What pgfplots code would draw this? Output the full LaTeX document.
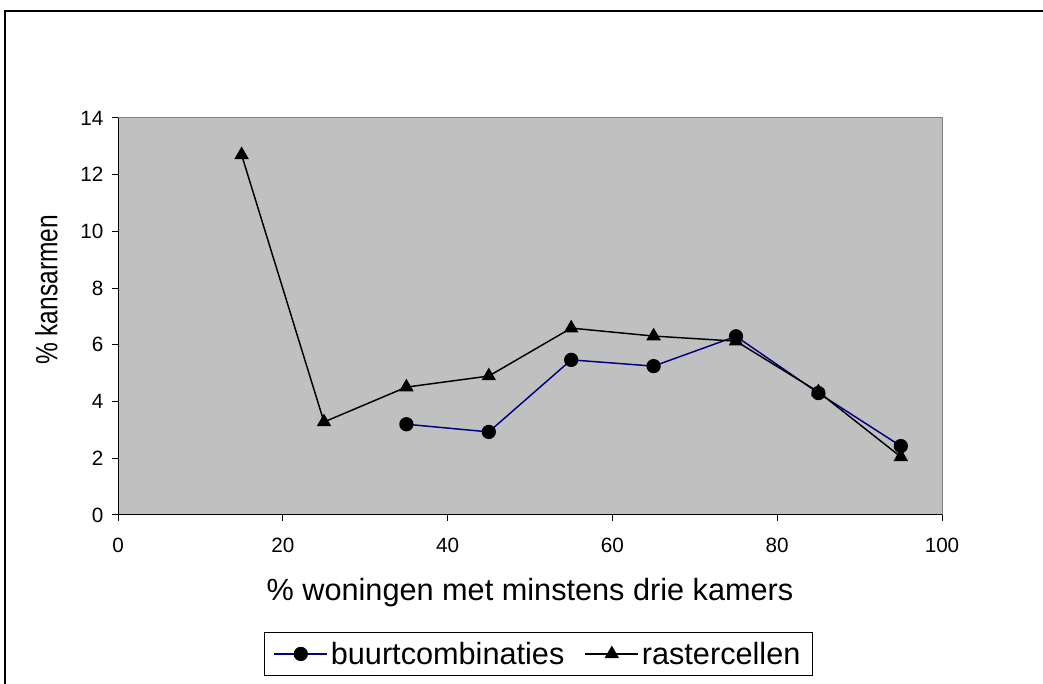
\documentclass[border=0pt]{standalone}
\usepackage{fontspec}
\setmainfont{Liberation Sans}
\newfontfamily\ylabfont[FakeStretch=0.8]{Liberation Sans}
\usepackage{pgfplots}
\pgfplotsset{compat=1.18}
\definecolor{plotgray}{HTML}{C0C0C0}
\definecolor{navyline}{HTML}{000080}
\begin{document}
\begin{tikzpicture}
\useasboundingbox (0,0) rectangle (782.25pt,513pt);
\draw[line width=1.5pt] (4.1pt,0) -- (4.1pt,505pt) -- (782.25pt,505pt);
\begin{axis}[
  at={(88.5pt,126.75pt)}, anchor=south west,
  scale only axis, width=618pt, height=297.75pt,
  xmin=0, xmax=100, ymin=0, ymax=14,
  xtick distance=20, ytick distance=2,
  xtick pos=bottom, ytick pos=left,
  tick align=outside, major tick length=4.5pt,
  tick style={black, line width=0.75pt},
  axis background/.style={fill=plotgray},
  axis line style={draw=gray, line width=0.75pt},
  /pgf/number format/assume math mode=true,
  ticklabel style={font=\fontsize{15.5}{17}\selectfont},
  xticklabel style={yshift=-9pt},
  yticklabel style={xshift=-3pt},
  xlabel={\% woningen met minstens drie kamers},
  ylabel={\% kansarmen},
  xlabel style={font=\fontsize{23}{26}\selectfont, at={(axis description cs:0.5,-0.196)}, anchor=center},
  ylabel style={font=\ylabfont\fontsize{23}{26}\selectfont, at={(axis description cs:-0.087,0.567)}, anchor=center},
  legend style={at={(axis description cs:0.51,-0.35)}, anchor=center,
    draw=black, line width=0.75pt, legend columns=2,
    inner xsep=7pt, inner ysep=5pt,
    font=\fontsize{23}{26}\selectfont,
    /tikz/every even column/.append style={column sep=13pt}},
  legend image code/.code={\draw[mark repeat=2,mark phase=2,#1] plot coordinates {(0pt,0pt) (20pt,0pt) (40pt,0pt)};},
  legend cell align=left,
]
\addplot[navyline, line width=1.1pt, mark=*, mark size=4.8pt, mark options={fill=black, draw=black}]
coordinates {(35,3.2) (45,2.93) (55,5.47) (65,5.25) (75,6.3) (85,4.3) (95,2.43)};
\addlegendentry{buurtcombinaties}
\addplot[black, line width=1.1pt, mark=triangle*, mark size=5.2pt, mark options={fill=black}]
coordinates {(15,12.7) (25,3.28) (35,4.51) (45,4.9) (55,6.59) (65,6.31) (75,6.13) (85,4.34) (95,2.05)};
\addlegendentry{rastercellen}
\draw[black, line width=1pt] (axis cs:0,14) -- (axis cs:0,0) -- (axis cs:100,0);
\end{axis}
\end{tikzpicture}
\end{document}
